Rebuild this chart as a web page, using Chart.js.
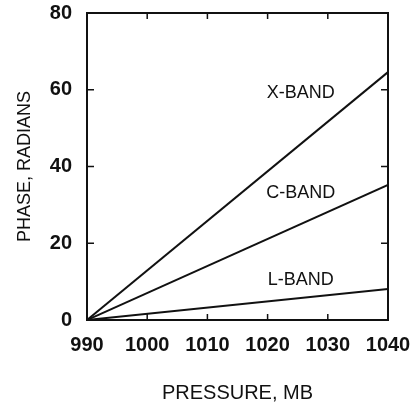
<!DOCTYPE html>
<html>
<head>
<meta charset="utf-8">
<script src="https://cdn.jsdelivr.net/npm/chart.js@4"></script>
<style>
  html, body { margin: 0; padding: 0; background: #fff; }
  #wrap { width: 415px; height: 410px; }
</style>
</head>
<body>
<div id="wrap"><canvas id="phaseChart" width="415" height="410"></canvas></div>
<script>
// phase vs pressure, three bands
const pressure = [990, 1040];
const xBand = [0, 64.6];
const cBand = [0, 35.2];
const lBand = [0, 8.1];
const bandNames = ["X-BAND", "C-BAND", "L-BAND"];

const xTicks = [990, 1000, 1010, 1020, 1030, 1040];
const yTicks = [0, 20, 40, 60, 80];

// where the band names sit (data coords)
const labelSpots = [
  { x: 1025.5, y: 59.1 },
  { x: 1025.5, y: 33.1 },
  { x: 1025.5, y: 10.4 }
];

const ink = "#111";
const font = "'Liberation Sans', Arial, sans-serif";

function toPoints(vals) {
  return pressure.map((p, i) => ({ x: p, y: vals[i] }));
}

// let the layout padding alone decide where the plot box goes
function noLabelPadding(scale) {
  scale.paddingTop = 0;
  scale.paddingBottom = 0;
  scale.paddingLeft = 0;
  scale.paddingRight = 0;
}

// box + inward ticks + band names
const framePlugin = {
  id: "frame",
  afterDraw(chart) {
    const { ctx, chartArea: a, scales } = chart;
    ctx.save();
    ctx.strokeStyle = ink;
    ctx.lineWidth = 2;
    ctx.strokeRect(a.left, a.top, a.right - a.left, a.bottom - a.top);

    ctx.lineWidth = 1.5;
    ctx.beginPath();
    xTicks.slice(1, -1).forEach(v => {
      const px = scales.x.getPixelForValue(v);
      ctx.moveTo(px, a.bottom); ctx.lineTo(px, a.bottom - 6);
      ctx.moveTo(px, a.top); ctx.lineTo(px, a.top + 6);
    });
    yTicks.slice(1, -1).forEach(v => {
      const py = scales.y.getPixelForValue(v);
      ctx.moveTo(a.left, py); ctx.lineTo(a.left + 7, py);
      ctx.moveTo(a.right, py); ctx.lineTo(a.right - 7, py);
    });
    ctx.stroke();

    ctx.fillStyle = ink;
    ctx.font = "18px " + font;
    ctx.textAlign = "center";
    ctx.textBaseline = "middle";
    bandNames.forEach((name, i) => {
      const s = labelSpots[i];
      ctx.fillText(name, scales.x.getPixelForValue(s.x), scales.y.getPixelForValue(s.y));
    });
    ctx.restore();
  }
};

const ctx = document.getElementById("phaseChart").getContext("2d");
new Chart(ctx, {
  type: "line",
  data: {
    datasets: [
      { label: bandNames[0], data: toPoints(xBand) },
      { label: bandNames[1], data: toPoints(cBand) },
      { label: bandNames[2], data: toPoints(lBand) }
    ].map(d => Object.assign(d, {
      borderColor: ink,
      borderWidth: 2,
      pointRadius: 0,
      fill: false,
      tension: 0
    }))
  },
  options: {
    responsive: false,
    animation: false,
    layout: { padding: { top: 13, right: 27, left: 0, bottom: 0 } },
    plugins: {
      legend: { display: false },
      tooltip: { enabled: false }
    },
    scales: {
      x: {
        type: "linear",
        min: 990,
        max: 1040,
        afterFit(scale) { scale.height = 90; noLabelPadding(scale); },
        afterBuildTicks(scale) { scale.ticks = xTicks.map(v => ({ value: v })); },
        grid: { display: false, drawTicks: false },
        border: { display: false },
        ticks: {
          padding: 13,
          maxRotation: 0,
          autoSkip: false,
          color: ink,
          font: { family: font, size: 20, weight: "bold" },
          callback: v => String(v)
        },
        title: {
          display: true,
          text: "PRESSURE, MB",
          color: ink,
          padding: { top: 0, bottom: 5 },
          font: { family: font, size: 20 }
        }
      },
      y: {
        min: 0,
        max: 80,
        afterFit(scale) { scale.width = 87; noLabelPadding(scale); },
        afterBuildTicks(scale) { scale.ticks = yTicks.map(v => ({ value: v })); },
        grid: { display: false, drawTicks: false },
        border: { display: false },
        ticks: {
          padding: 15,
          color: ink,
          font: { family: font, size: 20, weight: "bold" },
          callback: v => String(v)
        },
        title: {
          display: true,
          text: "PHASE, RADIANS",
          color: ink,
          padding: { top: 14, bottom: 0 },
          font: { family: font, size: 18 }
        }
      }
    }
  },
  plugins: [framePlugin]
});
</script>
</body>
</html>
